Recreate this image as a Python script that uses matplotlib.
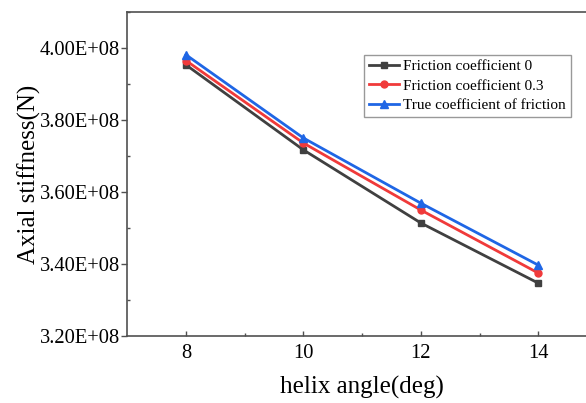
import matplotlib
matplotlib.use("Agg")
import matplotlib.pyplot as plt
from matplotlib.ticker import FixedLocator, MultipleLocator

plt.rcParams["font.family"] = ["Liberation Serif", "DejaVu Serif"]

# helix angle (deg) and axial stiffness (N)
helix_angle = [8, 10, 12, 14]
friction_0 = [3.953e8, 3.717e8, 3.514e8, 3.347e8]
friction_03 = [3.965e8, 3.736e8, 3.550e8, 3.375e8]
friction_true = [3.981e8, 3.750e8, 3.569e8, 3.397e8]
series_names = ["Friction coefficient 0", "Friction coefficient 0.3",
                "True coefficient of friction"]
y_ticks = [3.2e8, 3.4e8, 3.6e8, 3.8e8, 4.0e8]
y_tick_labels = ["3.20E+08", "3.40E+08", "3.60E+08", "3.80E+08", "4.00E+08"]

W, H = 586, 403
fig = plt.figure(figsize=(W / 100, H / 100), dpi=100)
# axes runs a bit past the right edge, as in the cropped reference
ax = fig.add_axes([127.3 / W, (H - 336) / H, 469.6 / W, 324 / H])

ax.plot(helix_angle, friction_0, "-s", color="#404040", lw=2, ms=5,
        label=series_names[0])
ax.plot(helix_angle, friction_03, "-o", color="#f03a3a", lw=2, ms=5,
        label=series_names[1])
ax.plot(helix_angle, friction_true, "-^", color="#1f66e5", lw=2, ms=5.5,
        label=series_names[2])

ax.set_xlim(7, 15)
ax.set_ylim(3.2e8, 4.1e8)
ax.xaxis.set_major_locator(FixedLocator(helix_angle))
ax.xaxis.set_minor_locator(FixedLocator([9, 11, 13]))
ax.set_yticks(y_ticks)
ax.set_yticklabels(y_tick_labels)
ax.yaxis.set_minor_locator(MultipleLocator(0.1e8))

for s in ax.spines.values():
    s.set_color("#505050")
    s.set_linewidth(1.2)

ax.tick_params(axis="x", which="major", direction="in", length=3.6, width=1,
               color="#505050", labelsize=14.8, pad=6)
ax.tick_params(axis="x", which="minor", direction="in", length=2.2, width=1,
               color="#505050")
ax.tick_params(axis="y", which="major", direction="out", length=4.3, width=1,
               color="#505050", labelsize=14.8, pad=0.8)
ax.tick_params(axis="y", which="minor", direction="in", length=2.2, width=1,
               color="#505050")

ax.set_xlabel("helix angle(deg)", fontsize=18, labelpad=9)
ax.set_ylabel("Axial stiffness(N)", fontsize=18)
ax.yaxis.set_label_coords(-0.183, 0.5)

leg = ax.legend(loc="upper left", bbox_to_anchor=(237 / 469.6, 1 - 43 / 324),
                fontsize=11, frameon=True, fancybox=False, handlelength=2.0,
                handletextpad=0.25, borderpad=0.3, labelspacing=0.38,
                borderaxespad=0)
leg.get_frame().set_edgecolor("#808080")
leg.get_frame().set_linewidth(1)

fig.savefig("out.png", dpi=100)
